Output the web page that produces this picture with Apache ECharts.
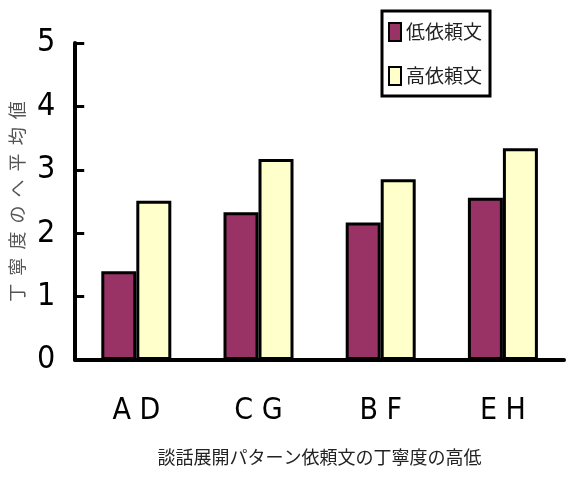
<!DOCTYPE html>
<html>
<head>
<meta charset="utf-8">
<script src="https://cdn.jsdelivr.net/npm/echarts@6/dist/echarts.min.js"></script>
<style>
	html, body { margin: 0; padding: 0; background: #fff; }
	#chart { width: 566px; height: 479px; }
</style>
</head>
<body>
<div id="chart"></div>
<script>
	const categories = ["A D", "C G", "B F", "E H"];
	const lowValues = [1.40, 2.33, 2.17, 2.56];
	const highValues = [2.51, 3.17, 2.85, 3.34];
	const seriesNames = ["低依頼文", "高依頼文"];
	const xAxisName = "談話展開パターン依頼文の丁寧度の高低";
	const yAxisName = "丁寧度のへ平均値";

	const narrow = "'Liberation Sans Narrow', 'DejaVu Sans Condensed', sans-serif";
	const cjk = "'Noto Sans CJK JP', sans-serif";

	// spread the vertical axis name out like the original
	const spacedName = yAxisName.split("").join("  ");

	const chart = echarts.init(document.getElementById("chart"));

	chart.setOption({
		animation: false,
		grid: { left: 73, right: 2, top: 43, bottom: 119, containLabel: false },
		legend: {
			orient: "vertical",
			left: 382,
			top: 11,
			padding: [11, 8, 10, 6],
			itemGap: 24,
			itemWidth: 12,
			itemHeight: 18,
			icon: "rect",
			selectedMode: false,
			borderColor: "#000",
			borderWidth: 3,
			backgroundColor: "#fff",
			textStyle: { fontFamily: cjk, fontSize: 19, color: "#222" },
			data: seriesNames
		},
		xAxis: {
			type: "category",
			data: categories,
			name: xAxisName,
			nameLocation: "middle",
			nameGap: 88,
			nameTextStyle: { fontFamily: cjk, fontSize: 18, color: "#222" },
			axisLine: { lineStyle: { color: "#000", width: 4 } },
			axisTick: { inside: true, length: 9, lineStyle: { color: "#000", width: 3 } },
			axisLabel: { fontFamily: narrow, fontSize: 30, color: "#000", margin: 36 }
		},
		yAxis: {
			type: "value",
			min: 0,
			max: 5,
			interval: 1,
			name: spacedName,
			nameLocation: "middle",
			nameGap: 36,
			nameTextStyle: { fontFamily: cjk, fontSize: 18, color: "#555" },
			splitLine: { show: false },
			axisLine: { show: true, lineStyle: { color: "#000", width: 4 } },
			axisTick: { show: true, inside: true, length: 9, lineStyle: { color: "#000", width: 3 } },
			axisLabel: { fontFamily: narrow, fontSize: 32, color: "#000", margin: 20 }
		},
		series: [
			{
				name: seriesNames[0],
				type: "bar",
				data: lowValues,
				barWidth: 35,
				barGap: "0%",
				itemStyle: { color: "#993366", borderColor: "#000", borderWidth: 3 }
			},
			{
				name: seriesNames[1],
				type: "bar",
				data: highValues,
				barWidth: 35,
				barGap: "0%",
				itemStyle: { color: "#FFFFCC", borderColor: "#000", borderWidth: 3 }
			}
		]
	});
</script>
</body>
</html>
